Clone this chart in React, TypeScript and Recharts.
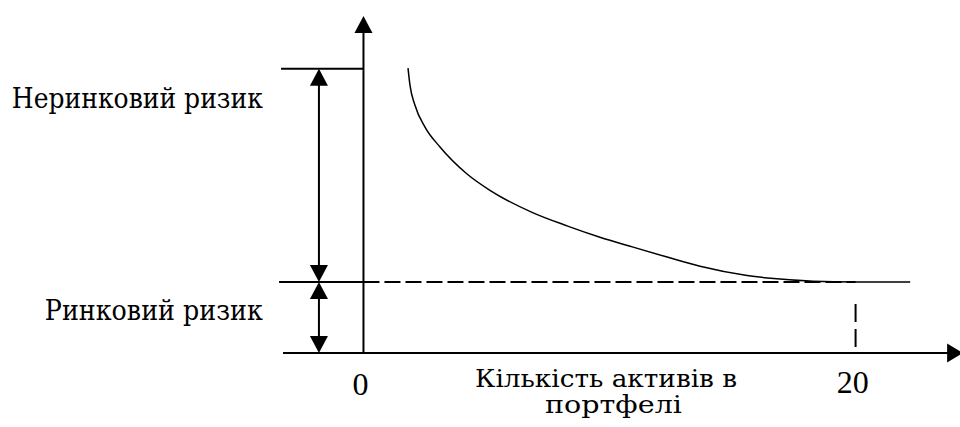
import React from 'react';
import { ComposedChart, Line, XAxis, YAxis, ReferenceLine, ReferenceDot } from 'recharts';

// Curve: total portfolio risk vs number of assets
const curveX = [1.81, 1.89, 2.09, 2.5, 3.11, 4.21, 5.14, 6.85, 8.27, 9.61, 10.96, 12.34, 13.68, 15.59, 16.93, 18.27, 20, 22.22];
const curveY = [40.1, 37.7, 34.9, 31.8, 29.0, 25.2, 22.9, 19.8, 17.9, 16.3, 14.9, 13.5, 12.2, 10.9, 10.4, 10.1, 10, 10];

const marketRisk = 10;
const totalRisk = 40;
const assetTicks = [0, 20];
const tickLabels = ['0', '20'];
const riskLabels = ['Неринковий ризик', 'Ринковий ризик'];
const axisTitle = ['Кількість активів в', 'портфелі'];

const data = curveX.map((x, i) => ({ x, y: curveY[i] }));

const FONT = "'DejaVu Serif', 'Liberation Serif', serif";
const DIGIT_FONT = "'Liberation Serif', serif";

const arrow = (dir: 'up' | 'down' | 'right', len: number, half: number) => (props: any) => {
  const { cx, cy } = props;
  let pts = '';
  if (dir === 'up') pts = `${cx},${cy} ${cx - half},${cy + len} ${cx + half},${cy + len}`;
  else if (dir === 'down') pts = `${cx},${cy} ${cx - half},${cy - len} ${cx + half},${cy - len}`;
  else pts = `${cx},${cy} ${cx - len},${cy - half} ${cx - len},${cy + half}`;
  return <polygon points={pts} fill="#000" />;
};

const textShape = (label: string, size: number, family: string, length?: number) => (props: any) => {
  const { cx, cy } = props;
  return (
    <text
      x={cx}
      y={cy}
      textAnchor="middle"
      style={{ fontFamily: family, fontSize: size }}
      fill="#000"
      {...(length ? { textLength: length, lengthAdjust: 'spacingAndGlyphs' } : {})}
    >
      {label}
    </text>
  );
};

const seg = (x1: number, y1: number, x2: number, y2: number, key: string, dash?: string) => (
  <ReferenceLine
    key={key}
    segment={[{ x: x1, y: y1 }, { x: x2, y: y2 }]}
    stroke="#000"
    strokeWidth={2}
    strokeDasharray={dash}
    ifOverflow="visible"
  />
);

const arrowX = -1.81;

export default function App() {
  return (
    <div style={{ position: 'absolute', left: 0, top: 0, width: 960, height: 427, background: '#fff' }}>
      <ComposedChart width={960} height={427} data={data} margin={{ top: 12, right: 6, bottom: 74, left: 19 }}>
        <XAxis type="number" dataKey="x" domain={[-14, 24]} hide />
        <YAxis type="number" domain={[0, 48]} hide />

        {/* axes */}
        {seg(0, 0, 0, 46, 'yaxis')}
        {seg(-3.27, 0, 23.8, 0, 'xaxis')}
        {/* level lines */}
        {seg(-3.35, totalRisk, 0, totalRisk, 'top')}
        {seg(-3.43, marketRisk, 0, marketRisk, 'mkt')}
        {seg(0, marketRisk, assetTicks[1], marketRisk, 'mktdash', '16 5')}
        {seg(assetTicks[1], 6.9, assetTicks[1], 0, 'vdash', '18 7')}
        {/* double arrows */}
        {seg(arrowX, totalRisk - 1, arrowX, marketRisk + 1, 'arr1')}
        {seg(arrowX, marketRisk - 1, arrowX, 1, 'arr2')}

        <ReferenceDot x={0} y={47.44} r={0} ifOverflow="visible" shape={arrow('up', 17, 9)} />
        <ReferenceDot x={24.37} y={0} r={0} ifOverflow="visible" shape={arrow('right', 16, 9.5)} />
        <ReferenceDot x={arrowX} y={totalRisk} r={0} ifOverflow="visible" shape={arrow('up', 17, 9)} />
        <ReferenceDot x={arrowX} y={marketRisk} r={0} ifOverflow="visible" shape={arrow('down', 17, 9)} />
        <ReferenceDot x={arrowX} y={marketRisk} r={0} ifOverflow="visible" shape={arrow('up', 17, 9)} />
        <ReferenceDot x={arrowX} y={0} r={0} ifOverflow="visible" shape={arrow('down', 17, 9)} />

        <Line
          type="monotone"
          dataKey="y"
          stroke="#000"
          strokeWidth={1.5}
          dot={false}
          activeDot={false}
          isAnimationActive={false}
        />

        {/* texts */}
        <ReferenceDot x={-9.19} y={34.49} r={0} ifOverflow="visible" shape={textShape(riskLabels[0], 27, FONT, 251)} />
        <ReferenceDot x={-8.52} y={4.65} r={0} ifOverflow="visible" shape={textShape(riskLabels[1], 27, FONT, 218)} />
        <ReferenceDot x={assetTicks[0] - 0.12} y={-5.91} r={0} ifOverflow="visible" shape={textShape(tickLabels[0], 32, DIGIT_FONT)} />
        <ReferenceDot x={assetTicks[1] - 0.12} y={-5.63} r={0} ifOverflow="visible" shape={textShape(tickLabels[1], 32, DIGIT_FONT)} />
        <ReferenceDot x={9.86} y={-4.79} r={0} ifOverflow="visible" shape={textShape(axisTitle[0], 24, FONT, 262)} />
        <ReferenceDot x={10.16} y={-8.45} r={0} ifOverflow="visible" shape={textShape(axisTitle[1], 24, FONT, 137)} />
      </ComposedChart>
    </div>
  );
}
